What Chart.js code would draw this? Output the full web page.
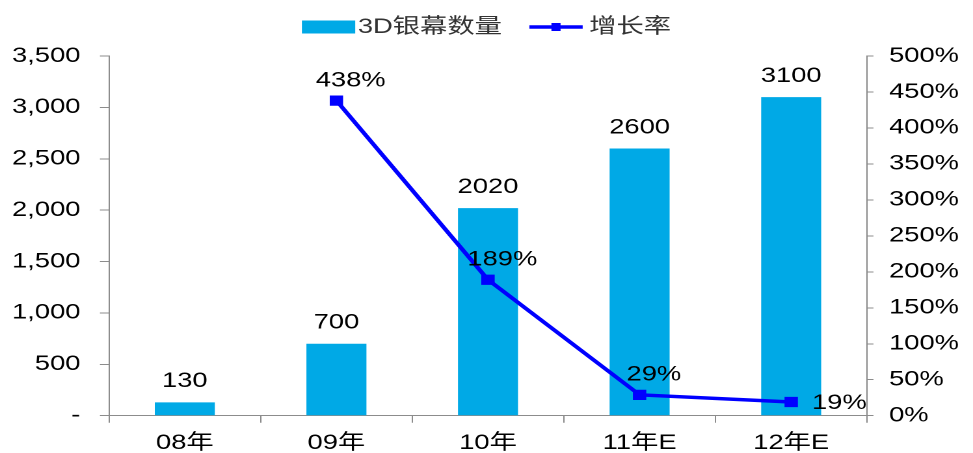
<!DOCTYPE html>
<html>
<head>
<meta charset="utf-8">
<script src="https://cdn.jsdelivr.net/npm/chart.js@4/dist/chart.umd.min.js"></script>
<style>
  html, body { margin: 0; padding: 0; background: #fff; overflow: hidden; }
  /* the chart is laid out narrow and widened horizontally */
  #wrap { width: 748px; height: 453px; transform: scaleX(1.3008); transform-origin: 0 0; }
</style>
</head>
<body>
<div id="wrap"><canvas id="c" width="748" height="453"></canvas></div>
<script>
// Cinema 3D screens and year-on-year growth
const categories = ['08年', '09年', '10年', '11年E', '12年E'];
const screens = [130, 700, 2020, 2600, 3100];
const growth = [null, 438, 189, 29, 19];
const leftTicks = { max: 3500, step: 500 };
const rightTicks = { max: 500, step: 50 };
const seriesNames = ['3D银幕数量', '增长率'];

const BAR_COLOR = '#00A9E6';
const LINE_COLOR = '#0000FF';
const AXIS_COLOR = '#8C8C8C';
const FONT = '"Liberation Sans", Arial, "Noto Sans CJK SC", sans-serif';

// value labels above bars and beside line points, plus the legend row
const annotate = {
  id: 'annotate',
  afterDatasetsDraw(chart) {
    const ctx = chart.ctx;
    ctx.save();
    ctx.font = '21px ' + FONT;
    ctx.fillStyle = '#000';
    ctx.textBaseline = 'middle';
    const bars = chart.getDatasetMeta(0).data;
    bars.forEach((el, i) => {
      ctx.textAlign = 'center';
      ctx.fillText(String(screens[i]), el.x, el.y - 21);
    });
    const pts = chart.getDatasetMeta(1).data;
    pts.forEach((el, i) => {
      if (growth[i] == null) return;
      const txt = growth[i] + '%';
      if (i === growth.length - 1) {
        ctx.textAlign = 'left';
        ctx.fillText(txt, el.x + 16, el.y + 1);
      } else {
        ctx.textAlign = 'center';
        ctx.fillText(txt, el.x + 11, el.y - 20);
      }
    });
    ctx.restore();
  },
  afterDraw(chart) {
    const ctx = chart.ctx;
    ctx.save();
    ctx.font = '21px ' + FONT;
    ctx.textBaseline = 'middle';
    const cy = 27;
    const boxW = 41, gap = 2, itemGap = 21;
    const w0 = ctx.measureText(seriesNames[0]).width;
    const w1 = ctx.measureText(seriesNames[1]).width;
    const total = boxW + gap + w0 + itemGap + boxW + 5 + w1;
    let x = chart.width / 2 - total / 2;
    ctx.fillStyle = BAR_COLOR;
    ctx.fillRect(x, cy - 6.5, boxW, 13);
    x += boxW + gap;
    ctx.fillStyle = '#333';
    ctx.textAlign = 'left';
    ctx.fillText(seriesNames[0], x, cy);
    x += w0 + itemGap;
    ctx.strokeStyle = LINE_COLOR;
    ctx.lineWidth = 3.5;
    ctx.beginPath();
    ctx.moveTo(x, cy);
    ctx.lineTo(x + boxW, cy);
    ctx.stroke();
    ctx.fillStyle = LINE_COLOR;
    ctx.fillRect(x + boxW / 2 - 3.5, cy - 4, 7, 8);
    x += boxW + 5;
    ctx.fillStyle = '#333';
    ctx.fillText(seriesNames[1], x, cy);
    ctx.restore();
  }
};

new Chart(document.getElementById('c'), {
  data: {
    labels: categories,
    datasets: [
      {
        type: 'bar',
        label: seriesNames[0],
        data: screens,
        backgroundColor: BAR_COLOR,
        yAxisID: 'y',
        barPercentage: 0.8,
        categoryPercentage: 0.495,
        order: 2
      },
      {
        type: 'line',
        label: seriesNames[1],
        data: growth,
        borderColor: LINE_COLOR,
        backgroundColor: LINE_COLOR,
        borderWidth: 3.5,
        pointStyle: 'rect',
        pointRadius: 4.8,
        pointHoverRadius: 4.8,
        tension: 0,
        yAxisID: 'y1',
        order: 1
      }
    ]
  },
  plugins: [annotate],
  options: {
    responsive: false,
    animation: false,
    devicePixelRatio: 2,
    layout: { padding: { top: 56, left: 0, right: 0, bottom: 0 } },
    plugins: { legend: { display: false }, tooltip: { enabled: false } },
    scales: {
      x: {
        offset: true,
        grid: { offset: true, drawOnChartArea: false, drawTicks: true, tickLength: 7, color: AXIS_COLOR },
        border: { color: AXIS_COLOR, width: 1 },
        ticks: { color: '#000', font: { family: FONT, size: 21 }, padding: 8, maxRotation: 0 },
        afterFit(s) { s.height = 37.3; }
      },
      y: {
        position: 'left',
        min: 0,
        max: leftTicks.max,
        grid: { drawOnChartArea: false, tickLength: 7, color: AXIS_COLOR },
        border: { color: AXIS_COLOR, width: 1 },
        ticks: {
          stepSize: leftTicks.step,
          color: '#000',
          font: { family: FONT, size: 21 },
          padding: 15,
          callback: v => v === 0 ? '-' : v.toLocaleString('en-US')
        },
        afterFit(s) { s.width = 83.8; }
      },
      y1: {
        position: 'right',
        min: 0,
        max: rightTicks.max,
        grid: { drawOnChartArea: false, tickLength: 5, color: AXIS_COLOR },
        border: { color: AXIS_COLOR, width: 1 },
        ticks: {
          stepSize: rightTicks.step,
          color: '#000',
          font: { family: FONT, size: 21 },
          padding: 12,
          callback: v => v + '%'
        },
        afterFit(s) { s.width = 81.5; }
      }
    }
  }
});
</script>
</body>
</html>
